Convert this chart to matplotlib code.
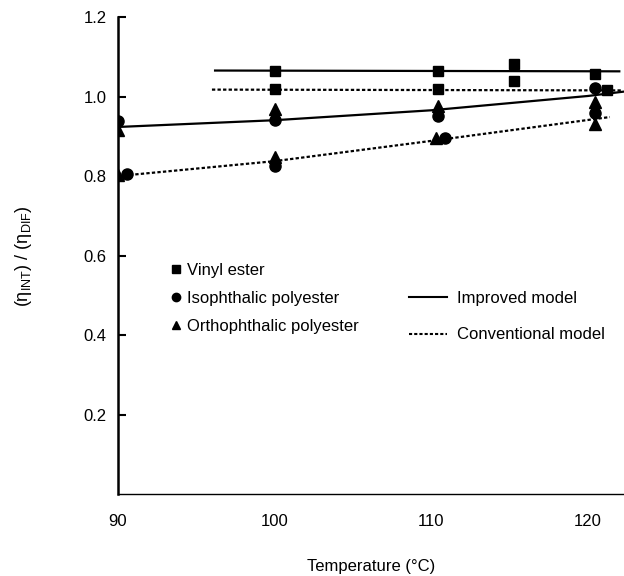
import matplotlib
matplotlib.use("Agg")
import matplotlib.pyplot as plt
from matplotlib.lines import Line2D

plt.rcParams['font.family'] = ['Liberation Sans', 'DejaVu Sans']
plt.rcParams['mathtext.fontset'] = 'custom'
plt.rcParams['mathtext.rm'] = 'Liberation Sans'

# measured points
vinyl_t = [100, 100, 110.4, 110.4, 115.3, 115.3, 120.45, 121.2]
vinyl_r = [1.066, 1.020, 1.066, 1.020, 1.083, 1.040, 1.057, 1.018]
iso_t = [90, 90.6, 100, 100, 110.9, 110.4, 120.45, 120.45]
iso_r = [0.938, 0.806, 0.942, 0.827, 0.896, 0.951, 1.022, 0.958]
ortho_t = [90, 90, 100, 100, 110.3, 110.4, 120.45, 120.45]
ortho_r = [0.916, 0.802, 0.969, 0.849, 0.896, 0.978, 0.988, 0.932]

# model curves
imp_upper_t = [96.2, 122.0]
imp_upper_r = [1.066, 1.064]
conv_upper_t = [96.0, 122.2]
conv_upper_r = [1.018, 1.016]
imp_lower_t = [90, 100, 110, 120, 122.3]
imp_lower_r = [0.924, 0.941, 0.966, 1.002, 1.013]
conv_lower_t = [90.4, 100, 110, 121.4]
conv_lower_r = [0.802, 0.838, 0.889, 0.949]

x_ticks = [90, 100, 110, 120]
y_ticks = [0.2, 0.4, 0.6, 0.8, 1.0, 1.2]

fig = plt.figure(figsize=(6.24, 5.76), dpi=100)
ax = fig.add_axes([0.189, 0.142, 0.811, 0.828])

dots = (0, (1.5, 1.0))
ax.plot(imp_upper_t, imp_upper_r, color='black', lw=1.6, ls='-', zorder=2)
ax.plot(imp_lower_t, imp_lower_r, color='black', lw=1.6, ls='-', zorder=2)
ax.plot(conv_upper_t, conv_upper_r, color='black', lw=1.6, ls=dots, zorder=2)
ax.plot(conv_lower_t, conv_lower_r, color='black', lw=1.6, ls=dots, zorder=2)

ax.plot(vinyl_t, vinyl_r, ls='none', marker='s', ms=7.5, color='black', zorder=3)
ax.plot(iso_t, iso_r, ls='none', marker='o', ms=8, color='black', zorder=3)
ax.plot(ortho_t, ortho_r, ls='none', marker='^', ms=8, color='black', zorder=3)

ax.set_xlim(90, 122.3)
ax.set_ylim(0, 1.2)
ax.set_xticks(x_ticks)
ax.set_yticks(y_ticks)
ax.set_yticklabels([f'{v:.1f}' for v in y_ticks])
ax.tick_params(axis='y', direction='in', length=6, width=1.5, labelsize=12, pad=8)
ax.tick_params(axis='x', length=0, labelsize=12, pad=14)
for s in ['top', 'right']:
    ax.spines[s].set_visible(False)
ax.spines['left'].set_linewidth(1.8)
ax.spines['bottom'].set_linewidth(1.0)

ax.set_xlabel('Temperature (°C)', fontsize=12, labelpad=22)
ax.set_ylabel(r'(η$_{\mathrm{INT}}$) / (η$_{\mathrm{DIF}}$)', fontsize=13, labelpad=36)

mk = [
    Line2D([], [], ls='none', marker='s', ms=6, color='black', label='Vinyl ester'),
    Line2D([], [], ls='none', marker='o', ms=6, color='black', label='Isophthalic polyester'),
    Line2D([], [], ls='none', marker='^', ms=6, color='black', label='Orthophthalic polyester'),
]
leg1 = ax.legend(handles=mk, loc='upper left', bbox_to_anchor=(0.075, 0.517), frameon=False,
                 fontsize=12, handlelength=0.6, handletextpad=0.35, labelspacing=0.8)
ax.add_artist(leg1)
ln = [
    Line2D([], [], color='black', lw=1.5, ls='-', label='Improved model'),
    Line2D([], [], color='black', lw=1.5, ls=dots, label='Conventional model'),
]
ax.legend(handles=ln, loc='upper left', bbox_to_anchor=(0.545, 0.458), frameon=False,
          fontsize=12, handlelength=2.3, handletextpad=0.6, labelspacing=1.3)

fig.savefig('out.png', dpi=100)
